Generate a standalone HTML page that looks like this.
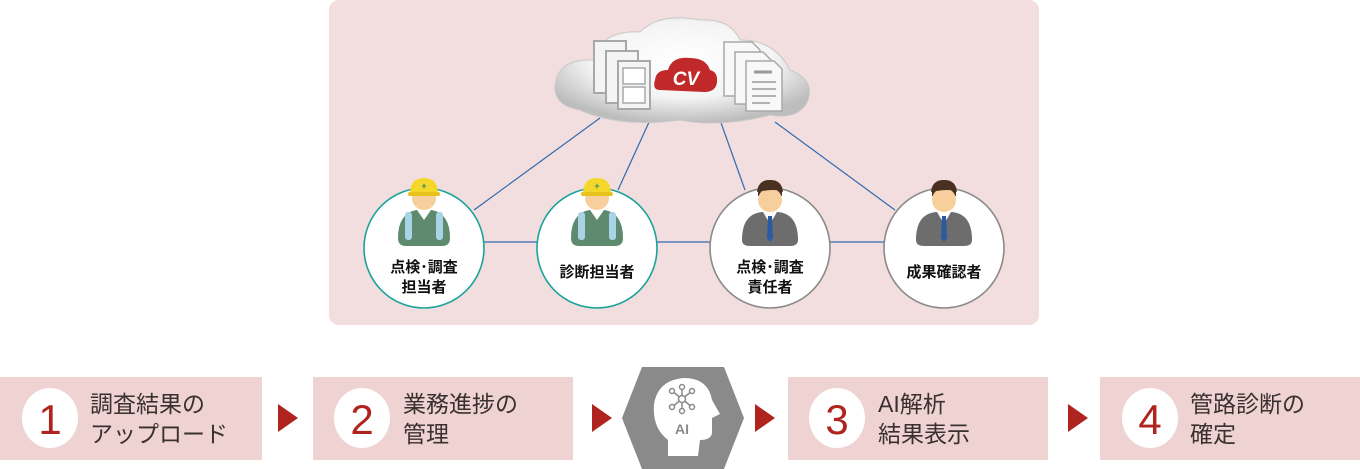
<!DOCTYPE html>
<html><head><meta charset="utf-8"><style>
html,body{margin:0;padding:0;background:#fff;width:1360px;height:469px;overflow:hidden}
svg text{font-family:"Liberation Sans","Noto Sans CJK JP",sans-serif}
</style></head><body>
<svg width="1360" height="469" viewBox="0 0 1360 469" xmlns="http://www.w3.org/2000/svg">
<defs>
<radialGradient id="cg" cx="50%" cy="40%" r="60%"><stop offset="0" stop-color="#fff"/><stop offset="0.6" stop-color="#f4f4f4"/><stop offset="1" stop-color="#bdbdbd"/></radialGradient>
<g id="worker">
<circle cx="0" cy="-28" r="12" fill="#f6cf9c"/>
<path d="M-26 12 Q-26 -12 -8 -16 L8 -16 Q26 -12 26 12 Q26 20 18 20 L-18 20 Q-26 20 -26 12Z" fill="#5e8a6e"/>
<rect x="-19" y="-14" width="7" height="28" rx="3" fill="#a9d3e6"/><rect x="12" y="-14" width="7" height="28" rx="3" fill="#a9d3e6"/>
<path d="M-7 -16 L0 -6 L7 -16Z" fill="#fff"/>
<path d="M-14 -32 Q-14 -48 0 -48 Q14 -48 14 -32Z" fill="#f3d72a"/><rect x="-16" y="-34" width="32" height="4" rx="2" fill="#e8c21c"/>
<text x="0" y="-37" font-size="9" fill="#3a8a6a" text-anchor="middle" font-weight="bold">+</text>
</g>
<g id="boss">
<path d="M-12 -34 Q-12 -46 0 -46 Q12 -46 12 -34 L12 -30 L-12 -30Z" fill="#4a3020"/>
<circle cx="0" cy="-26" r="12" fill="#f6cf9c"/>
<path d="M-13 -34 Q-12 -46 0 -46 Q12 -46 13 -34 Q6 -38 -13 -34Z" fill="#4a3020"/>
<path d="M-28 14 Q-28 -12 -8 -14 L8 -14 Q28 -12 28 14 Q28 20 20 20 L-20 20 Q-28 20 -28 14Z" fill="#6d6d6d"/>
<path d="M-7 -14 L0 -2 L7 -14Z" fill="#fff"/>
<path d="M-2 -10 L2 -10 L3 12 L0 16 L-3 12Z" fill="#2a5aa0"/>
</g>
</defs>
<rect x="329" y="0" width="710" height="325" rx="10" fill="#f2dede"/>
<!-- lines -->
<g stroke="#2f6bb0" stroke-width="1.2" fill="none">
<line x1="484" y1="242" x2="537" y2="242"/><line x1="657" y1="242" x2="710" y2="242"/><line x1="830" y1="242" x2="884" y2="242"/>
<line x1="600" y1="118" x2="474" y2="210"/><line x1="650" y1="120" x2="618" y2="190"/>
<line x1="720" y1="120" x2="745" y2="190"/><line x1="775" y1="122" x2="895" y2="210"/>
</g>
<!-- cloud -->
<g fill="url(#cg)" stroke="#c8c8c8" stroke-width="1">
<path d="M580 110 Q550 105 556 80 Q562 58 595 60 Q600 30 640 32 Q660 12 700 20 Q730 18 740 40 Q775 40 790 70 Q815 80 808 100 Q800 120 770 115 Q720 128 680 120 Q620 128 580 110Z"/>
</g>
<!-- film strips -->
<g fill="#f4f4f4" stroke="#a8a8a8" stroke-width="2">
<rect x="594" y="41" width="32" height="52"/><rect x="606" y="51" width="32" height="52"/><rect x="618" y="61" width="32" height="48"/>
</g>
<g fill="#fff" stroke="#a8a8a8" stroke-width="1.5"><rect x="623" y="68" width="22" height="16"/><rect x="623" y="87" width="22" height="16"/></g>
<!-- docs -->
<g fill="#f8f8f8" stroke="#a8a8a8" stroke-width="1.5">
<path d="M724 42 L752 42 L760 50 L760 96 L724 96Z"/><path d="M735 52 L763 52 L771 60 L771 104 L735 104Z"/><path d="M746 61 L774 61 L782 69 L782 111 L746 111Z"/>
</g>
<g stroke="#999" stroke-width="1.5"><line x1="754" y1="72" x2="772" y2="72" stroke-width="3"/><line x1="752" y1="82" x2="776" y2="82"/><line x1="752" y1="89" x2="776" y2="89"/><line x1="752" y1="96" x2="776" y2="96"/><line x1="752" y1="103" x2="770" y2="103"/></g>
<!-- CV logo -->
<path d="M660 90 Q652 90 655 80 Q656 70 668 70 Q672 56 690 58 Q706 58 710 70 Q718 72 717 82 Q716 92 704 92Z" fill="#c0282a"/>
<text x="686" y="85" font-size="19" font-weight="bold" font-style="italic" fill="#fff" text-anchor="middle">CV</text>
<!-- circles -->
<g stroke-width="1.6" fill="#fff">
<circle cx="424" cy="248" r="60" stroke="#1aa39a"/><circle cx="597" cy="248" r="60" stroke="#1aa39a"/>
<circle cx="770" cy="248" r="60" stroke="#8a8a8a"/><circle cx="944" cy="248" r="60" stroke="#8a8a8a"/>
</g>
<use href="#worker" x="424" y="226"/><use href="#worker" x="597" y="226"/>
<use href="#boss" x="770" y="226"/><use href="#boss" x="944" y="226"/>
<g font-size="15" font-weight="bold" fill="#111" text-anchor="middle">
<text x="424" y="272">点検･調査</text><text x="424" y="292">担当者</text>
<text x="597" y="277">診断担当者</text>
<text x="770" y="272">点検･調査</text><text x="770" y="292">責任者</text>
<text x="944" y="277">成果確認者</text>
</g>
<!-- bottom -->
<g fill="#efd3d2"><rect x="0" y="377" width="262" height="83"/><rect x="313" y="377" width="260" height="83"/><rect x="788" y="377" width="260" height="83"/><rect x="1100" y="377" width="260" height="83"/></g>
<g fill="#fff"><ellipse cx="50" cy="418" rx="28" ry="30"/><ellipse cx="362" cy="418" rx="28" ry="30"/><ellipse cx="837" cy="418" rx="28" ry="30"/><ellipse cx="1150" cy="418" rx="28" ry="30"/></g>
<g font-size="42" fill="#b0241f" text-anchor="middle">
<text x="50" y="434">1</text><text x="362" y="434">2</text><text x="837" y="434">3</text><text x="1150" y="434">4</text>
</g>
<g font-size="23" fill="#3a3030">
<text x="90" y="412">調査結果の</text><text x="90" y="442">アップロード</text>
<text x="403" y="412">業務進捗の</text><text x="403" y="442">管理</text>
<text x="878" y="412">AI解析</text><text x="878" y="442">結果表示</text>
<text x="1190" y="412">管路診断の</text><text x="1190" y="442">確定</text>
</g>
<g fill="#b0241f">
<path d="M278 404 L298 418 L278 432Z"/><path d="M592 404 L612 418 L592 432Z"/><path d="M755 404 L775 418 L755 432Z"/><path d="M1068 404 L1088 418 L1068 432Z"/>
</g>
<!-- hexagon -->
<path d="M642 367 L724 367 L744 418 L724 469 L642 469 L622 418Z" fill="#8a8a8a"/>
<path d="M668 456 L668 440 Q652 428 654 404 Q658 380 684 378 Q708 378 712 400 L720 414 L712 418 L712 432 Q712 440 700 440 L698 456Z" fill="#fff"/>
<g stroke="#8a8a8a" stroke-width="1.5" fill="#fff">
<line x1="682" y1="399" x2="672" y2="391"/><line x1="682" y1="399" x2="692" y2="391"/><line x1="682" y1="399" x2="672" y2="407"/><line x1="682" y1="399" x2="692" y2="407"/><line x1="682" y1="399" x2="682" y2="388"/><line x1="682" y1="399" x2="682" y2="410"/>
<circle cx="682" cy="399" r="3.5"/><circle cx="672" cy="391" r="2.5"/><circle cx="692" cy="391" r="2.5"/><circle cx="672" cy="407" r="2.5"/><circle cx="692" cy="407" r="2.5"/><circle cx="682" cy="387" r="2.5"/><circle cx="682" cy="411" r="2.5"/>
</g>
<text x="682" y="434" font-size="14" font-weight="bold" fill="#8a8a8a" text-anchor="middle">AI</text>
</svg>
</body></html>
